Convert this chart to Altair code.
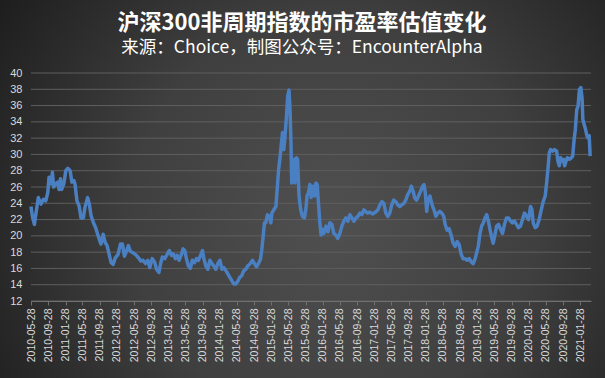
import altair as alt
import pandas as pd

dates = [
    "2010-05-28", "2010-06-07", "2010-06-21", "2010-06-30", "2010-07-19", "2010-08-07", "2010-08-24",
    "2010-09-10", "2010-09-24", "2010-10-03", "2010-10-17", "2010-10-27", "2010-11-05", "2010-11-19",
    "2010-12-04", "2010-12-13", "2010-12-23", "2011-01-01", "2011-01-16", "2011-01-30", "2011-02-13",
    "2011-03-02", "2011-03-14", "2011-03-28", "2011-04-05", "2011-04-19", "2011-05-04", "2011-05-18",
    "2011-06-03", "2011-06-15", "2011-07-04", "2011-07-16", "2011-07-28", "2011-08-14", "2011-08-30",
    "2011-09-13", "2011-09-28", "2011-10-07", "2011-10-22", "2011-11-05", "2011-11-19", "2011-12-04",
    "2011-12-18", "2012-01-01", "2012-01-16", "2012-02-04", "2012-02-22", "2012-03-07", "2012-03-21",
    "2012-04-04", "2012-04-18", "2012-05-02", "2012-05-23", "2012-06-09", "2012-06-29", "2012-07-15",
    "2012-07-31", "2012-08-17", "2012-09-03", "2012-09-17", "2012-10-04", "2012-10-21", "2012-11-04",
    "2012-11-21", "2012-12-03", "2012-12-15", "2013-01-01", "2013-01-20", "2013-02-03", "2013-02-17",
    "2013-03-03", "2013-03-17", "2013-03-30", "2013-04-13", "2013-04-27", "2013-05-11", "2013-05-23",
    "2013-06-04", "2013-06-18", "2013-07-02", "2013-07-16", "2013-07-31", "2013-08-14", "2013-08-28",
    "2013-09-12", "2013-09-26", "2013-10-06", "2013-10-20", "2013-11-03", "2013-11-17", "2013-12-02",
    "2013-12-16", "2013-12-30", "2014-01-13", "2014-01-28", "2014-02-11", "2014-02-25", "2014-03-12",
    "2014-03-26", "2014-04-08", "2014-04-22", "2014-05-06", "2014-05-20", "2014-06-03", "2014-06-17",
    "2014-07-01", "2014-07-15", "2014-07-30", "2014-08-13", "2014-09-01", "2014-09-16", "2014-09-30",
    "2014-10-14", "2014-10-28", "2014-11-11", "2014-11-21", "2014-11-30", "2014-12-10", "2014-12-19",
    "2014-12-31", "2015-01-12", "2015-01-24", "2015-01-31", "2015-02-14", "2015-03-01", "2015-03-10",
    "2015-03-20", "2015-03-29", "2015-04-07", "2015-04-17", "2015-04-26", "2015-05-05", "2015-05-15",
    "2015-05-24", "2015-06-02", "2015-06-09", "2015-06-16", "2015-06-21", "2015-06-28", "2015-07-07",
    "2015-07-14", "2015-07-24", "2015-08-02", "2015-08-12", "2015-08-24", "2015-09-05", "2015-09-19",
    "2015-09-29", "2015-10-08", "2015-10-18", "2015-10-28", "2015-11-06", "2015-11-16", "2015-11-30",
    "2015-12-10", "2015-12-19", "2015-12-28", "2016-01-07", "2016-01-16", "2016-01-26", "2016-02-05",
    "2016-02-19", "2016-03-04", "2016-03-18", "2016-04-01", "2016-04-15", "2016-04-29", "2016-05-13",
    "2016-05-28", "2016-06-11", "2016-06-25", "2016-07-09", "2016-07-24", "2016-08-07", "2016-08-21",
    "2016-09-04", "2016-09-19", "2016-10-03", "2016-10-17", "2016-10-31", "2016-11-14", "2016-12-08",
    "2016-12-27", "2017-01-15", "2017-02-04", "2017-02-22", "2017-03-08", "2017-03-22", "2017-04-05",
    "2017-04-19", "2017-05-03", "2017-05-17", "2017-05-31", "2017-06-14", "2017-06-29", "2017-07-13",
    "2017-07-27", "2017-08-10", "2017-08-25", "2017-09-08", "2017-09-22", "2017-10-07", "2017-10-16",
    "2017-10-30", "2017-11-09", "2017-11-23", "2017-12-07", "2017-12-22", "2018-01-05", "2018-01-15",
    "2018-01-24", "2018-02-03", "2018-02-12", "2018-02-26", "2018-03-13", "2018-03-27", "2018-04-09",
    "2018-04-23", "2018-05-07", "2018-05-21", "2018-06-04", "2018-06-14", "2018-06-28", "2018-07-12",
    "2018-07-26", "2018-08-10", "2018-08-24", "2018-09-07", "2018-09-22", "2018-10-06", "2018-10-20",
    "2018-11-03", "2018-11-17", "2018-12-02", "2018-12-16", "2018-12-30", "2019-01-13", "2019-02-04",
    "2019-02-16", "2019-02-28", "2019-03-12", "2019-03-24", "2019-04-05", "2019-04-17", "2019-04-28",
    "2019-05-09", "2019-05-21", "2019-06-02", "2019-06-14", "2019-06-28", "2019-07-12", "2019-07-26",
    "2019-08-09", "2019-08-23", "2019-09-07", "2019-09-21", "2019-10-05", "2019-10-19", "2019-11-02",
    "2019-11-16", "2019-12-01", "2019-12-15", "2019-12-29", "2020-01-13", "2020-01-27", "2020-02-10",
    "2020-02-20", "2020-02-29", "2020-03-14", "2020-03-28", "2020-04-11", "2020-04-26", "2020-05-10",
    "2020-05-24", "2020-06-03", "2020-06-12", "2020-06-22", "2020-07-01", "2020-07-15", "2020-07-29",
    "2020-08-13", "2020-08-22", "2020-09-01", "2020-09-10", "2020-09-20", "2020-09-30", "2020-10-09",
    "2020-10-19", "2020-10-28", "2020-11-12", "2020-11-26", "2020-12-05", "2020-12-15", "2020-12-24",
    "2021-01-03", "2021-01-12", "2021-01-22", "2021-02-01", "2021-02-10", "2021-02-15", "2021-02-24",
    "2021-03-06", "2021-03-16", "2021-03-25", "2021-04-01", "2021-04-08",
]

pe = [
    23.6, 22.4, 21.4, 22.5, 24.7, 23.9, 24.5,
    24.3, 25.3, 27.2, 26.4, 27.8, 26.0, 26.4,
    26.6, 25.7, 27.0, 25.7, 26.4, 28.0, 28.3,
    28.0, 26.6, 26.8, 26.4, 24.3, 23.7, 22.2,
    22.2, 23.5, 24.7, 23.9, 22.5, 21.6, 21.0,
    20.2, 19.4, 19.0, 20.2, 19.2, 18.8, 17.7,
    16.7, 16.5, 17.3, 17.7, 19.0, 19.0, 17.5,
    18.1, 18.8, 18.1, 17.9, 17.7, 17.3, 16.9,
    17.0, 16.6, 17.0, 16.1, 17.2, 16.8, 15.9,
    15.5, 16.6, 17.4, 17.2, 17.8, 18.2, 17.6,
    17.8, 17.2, 17.6, 17.0, 17.6, 18.4, 18.2,
    17.2, 16.3, 16.0, 17.0, 16.7, 17.2, 17.0,
    17.6, 18.2, 17.2, 16.3, 15.9, 17.0, 16.6,
    16.3, 15.9, 16.6, 17.0, 15.9, 16.1, 15.7,
    15.3, 14.9, 14.5, 14.1, 14.1, 14.4, 14.9,
    15.1, 15.7, 15.9, 16.3, 16.6, 17.0, 16.6,
    16.2, 16.6, 17.1, 18.3, 19.9, 21.6, 21.6,
    22.6, 22.4, 21.6, 22.8, 23.2, 23.6, 25.7,
    28.1, 29.4, 31.0, 32.7, 30.6, 32.3, 34.7,
    37.2, 37.9, 35.5, 31.4, 26.5, 27.7, 29.4,
    26.5, 29.6, 29.4, 24.9, 23.2, 22.4, 22.2,
    23.2, 24.9, 25.3, 26.3, 24.7, 26.1, 24.9,
    26.5, 26.3, 24.0, 21.6, 20.1, 20.8, 20.3,
    21.2, 20.5, 21.6, 21.4, 20.3, 20.1, 19.7,
    20.3, 21.2, 21.8, 22.2, 21.8, 22.6, 22.2,
    21.8, 22.2, 22.4, 22.8, 22.6, 23.2, 22.8,
    22.9, 22.7, 22.9, 23.2, 23.8, 24.2, 24.0,
    22.8, 22.4, 22.8, 23.8, 24.4, 24.2, 23.8,
    23.6, 23.8, 24.0, 24.4, 25.1, 25.5, 26.1,
    25.5, 24.7, 24.4, 24.9, 25.5, 26.1, 26.3,
    25.3, 23.0, 24.4, 24.9, 23.8, 23.2, 22.4,
    22.8, 23.0, 22.8, 22.4, 21.4, 20.7, 20.9,
    20.1, 19.1, 18.7, 19.3, 18.9, 17.7, 17.2,
    17.2, 17.0, 17.2, 16.8, 16.6, 17.2, 18.7,
    20.3, 21.2, 21.6, 22.2, 22.6, 21.8, 20.8,
    19.9, 19.1, 20.1, 21.2, 21.4, 20.8, 20.3,
    21.4, 22.2, 22.2, 21.8, 21.6, 21.8, 21.4,
    21.0, 21.2, 22.0, 22.8, 22.4, 22.0, 23.6,
    23.2, 21.6, 21.0, 21.2, 22.0, 23.2, 24.2,
    24.9, 26.5, 28.1, 30.2, 30.6, 30.4, 30.6,
    30.4, 29.2, 28.6, 29.6, 29.2, 29.4, 28.6,
    29.2, 29.6, 29.4, 29.6, 29.8, 31.8, 33.1,
    35.5, 35.9, 38.0, 38.2, 36.8, 34.3, 33.7,
    33.1, 32.3, 32.0, 32.3, 29.8,
]

tick_labels = [
    "2010-05-28", "2010-09-28", "2011-01-28", "2011-05-28", "2011-09-28", "2012-01-28",
    "2012-05-28", "2012-09-28", "2013-01-28", "2013-05-28", "2013-09-28", "2014-01-28",
    "2014-05-28", "2014-09-28", "2015-01-28", "2015-05-28", "2015-09-28", "2016-01-28",
    "2016-05-28", "2016-09-28", "2017-01-28", "2017-05-28", "2017-09-28", "2018-01-28",
    "2018-05-28", "2018-09-28", "2019-01-28", "2019-05-28", "2019-09-28", "2020-01-28",
    "2020-05-28", "2020-09-28", "2021-01-28",
]
x_start = "2010-05-28"
x_end = "2021-04-14"
y_ticks = [12, 14, 16, 18, 20, 22, 24, 26, 28, 30, 32, 34, 36, 38, 40]

title_text = "沪深300非周期指数的市盈率估值变化"
subtitle_text = "来源：Choice，制图公众号：EncounterAlpha"


def dt(s):
    y, m, d = (int(p) for p in s.split("-"))
    return alt.DateTime(year=y, month=m, date=d, utc=True)


df = pd.DataFrame({"date": dates, "pe": pe})
grid_df = pd.DataFrame({"v": y_ticks})

W, H = 560, 228
PL, PT, PR, PB = 31, 73, 14, 77

xscale = alt.Scale(type="utc", domain=[dt(x_start), dt(x_end)])
yscale = alt.Scale(domain=[12, 40], nice=False, zero=False)

y_axis = alt.Axis(
    values=y_ticks,
    labelFont="Liberation Sans",
    labelFontSize=11,
    labelColor="#d9d9d9",
    labelPadding=9,
    domain=False,
    ticks=False,
    grid=False,
    title=None,
    zindex=1,
)

bg = alt.Chart(pd.DataFrame({"a": [0]})).mark_rect(
    fill={
        "gradient": "radial",
        "x1": 0.55, "y1": 0.55, "r1": 0,
        "x2": 0.55, "y2": 0.55, "r2": 0.75,
        "stops": [
            {"offset": 0, "color": "#505050"},
            {"offset": 0.45, "color": "#3f3f3f"},
            {"offset": 1, "color": "#141414"},
        ],
    }
).encode(
    x=alt.value(-PL), x2=alt.value(W + PR),
    y=alt.value(-PT), y2=alt.value(H + PB),
)

grid = alt.Chart(grid_df).mark_rule(color="#5f5f5f", strokeWidth=1).encode(
    y=alt.Y("v:Q", scale=yscale, axis=y_axis)
)

line = alt.Chart(df).mark_line(color="#4A7FC1", strokeWidth=3.5, strokeJoin="round").encode(
    x=alt.X(
        "date:T",
        scale=xscale,
        axis=alt.Axis(
            values=[dt(s) for s in tick_labels],
            format="%Y-%m-%d",
            labelAngle=270,
            labelFont="Liberation Sans",
            labelFontSize=10.5,
            labelColor="#d9d9d9",
            labelOverlap=False,
            labelBound=False,
            labelFlush=False,
            labelPadding=3,
            domainColor="#707070",
            tickColor="#707070",
            tickSize=4,
            grid=False,
            title=None,
            zindex=1,
        ),
    ),
    y=alt.Y("pe:Q", scale=yscale, axis=y_axis),
)

chart = alt.layer(bg, grid, line).properties(
    width=W,
    height=H,
    autosize=alt.AutoSizeParams(type="none"),
    padding={"left": PL, "top": PT, "right": PR, "bottom": PB},
    title=alt.TitleParams(
        text=title_text,
        subtitle=subtitle_text,
        font="Noto Sans CJK SC",
        fontSize=22,
        fontWeight="bold",
        color="#ffffff",
        subtitleFont="Noto Sans CJK SC",
        subtitleFontSize=17.5,
        subtitleColor="#ffffff",
        subtitlePadding=4,
        anchor="middle",
        dx=-9,
        offset=-57,
        zindex=1,
    ),
).configure_view(stroke=None)

chart.save("out.html", embed_options={"renderer": "svg", "actions": False})
